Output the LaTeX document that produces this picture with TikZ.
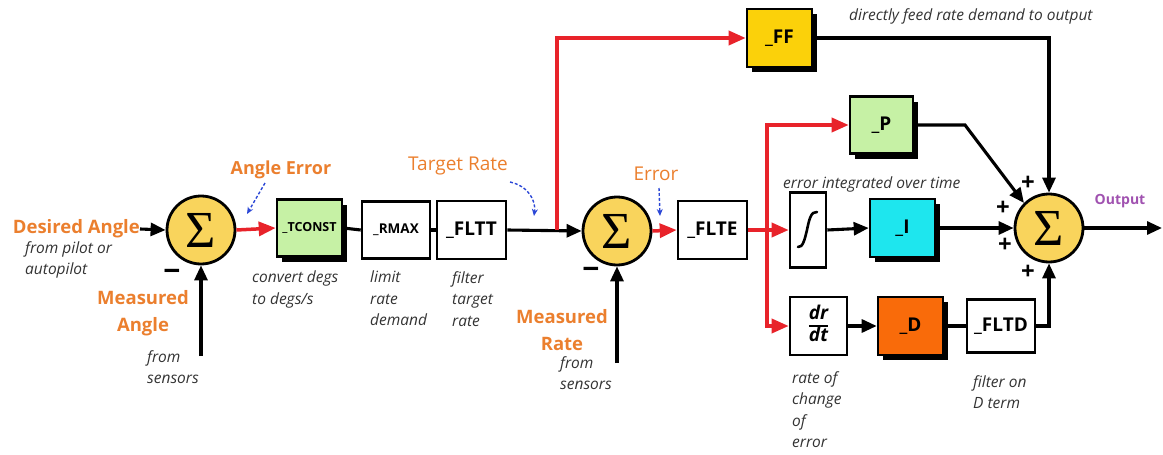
\documentclass[tikz,border=0pt]{standalone}
\usepackage{fontspec}
\setmainfont{Open Sans}
\newfontfamily\sigfont{Liberation Serif}
\usetikzlibrary{arrows.meta,shadows}
\definecolor{lbl}{HTML}{EB7F2E}
\definecolor{notec}{HTML}{333333}
\definecolor{redw}{HTML}{E8232A}
\definecolor{blu}{HTML}{2B47D6}
\definecolor{sumy}{HTML}{F9D45C}
\definecolor{lgreen}{HTML}{C6F1A5}
\definecolor{ffy}{HTML}{FBD10A}
\definecolor{cyanb}{HTML}{1EE6EE}
\definecolor{dor}{HTML}{F96B0A}
\definecolor{outc}{HTML}{A052B0}
\begin{document}
\begin{tikzpicture}[x=1pt,y=-1pt,
  box/.style={draw=black, line width=2.6pt, fill=white, inner sep=0pt, text=black,
    font=\bfseries\fontsize{19}{21}\selectfont},
  sbox/.style={box, drop shadow={shadow xshift=5pt,shadow yshift=-5pt,opacity=1,fill=black}},
  sumn/.style={circle, draw=black, line width=2.8pt, fill=sumy, minimum size=68pt,
    inner sep=0pt, font=\sigfont\fontsize{52}{52}\selectfont},
  wire/.style={draw=black, line width=3.1pt},
  rwire/.style={draw=redw, line width=3.5pt},
  barr/.style={-{Triangle[length=15pt,width=13pt]}},
  rarr/.style={-{Triangle[length=17pt,width=14pt]}},
  note/.style={font=\itshape\fontsize{15.5}{21.5}\selectfont, text=notec, align=left, inner sep=0pt},
  olbl/.style={font=\bfseries\fontsize{18.5}{27}\selectfont, text=lbl, align=center, inner sep=0pt},
  olblr/.style={font=\fontsize{19}{21}\selectfont, text=lbl, inner sep=0pt},
  plus/.style={font=\bfseries\fontsize{24}{24}\selectfont, inner sep=0pt},
  minus/.style={font=\bfseries\fontsize{30}{30}\selectfont, inner sep=0pt},
  bdash/.style={draw=blu, line width=1.4pt, dash pattern=on 3pt off 2pt, -{Stealth[length=7pt,width=6pt]}}
]
\useasboundingbox (0,0) rectangle (1163,455);

% ---------- blocks ----------
\node[sumn] (s1) at (201,230) {Σ};
\node[sbox, fill=lgreen, minimum width=65, minimum height=57,
  font=\bfseries\fontsize{12.5}{14}\selectfont] (tconst) at (309.5,228) {\_TCONST};
\node[box, minimum width=68, minimum height=57,
  font=\bfseries\fontsize{13.5}{15}\selectfont] (rmax) at (396,230) {\_RMAX};
\node[box, minimum width=69, minimum height=58] (fltt) at (471.5,230) {\_FLTT};
\node[sumn] (s2) at (617,231) {Σ};
\node[box, minimum width=69, minimum height=58] (flte) at (712.5,230) {\_FLTE};
\node[sbox, fill=ffy, minimum width=65, minimum height=58] (ff) at (779.5,38) {\_FF};
\node[sbox, fill=lgreen, minimum width=63, minimum height=57] (p) at (881.5,125) {\_P};
\node[box, minimum width=36, minimum height=75] (integ) at (808,230) {};
\node[sbox, fill=cyanb, minimum width=65, minimum height=58] (ib) at (902.5,228) {\_I};
\node[sumn] (s3) at (1049,228) {Σ};
\node[box, minimum width=57, minimum height=58, font=\bfseries\itshape\fontsize{19}{19}\selectfont] (drdt) at (818.5,326)
  {\setlength\arrayrulewidth{2pt}\begin{tabular}{@{}c@{}}dr\\\hline dt\end{tabular}};
\node[sbox, fill=dor, minimum width=65, minimum height=58] (db) at (910.5,326) {\_D};
\node[box, minimum width=68, minimum height=53] (fltd) at (1001,326) {\_FLTD};

% integral sign
\draw[line width=2.6pt, line cap=round] (798,247) .. controls (803,248) and (805,238) .. (807,230)
  .. controls (809,220) and (811,211) .. (817,212);

% ---------- labels ----------
\node[olbl, anchor=east] (desired) at (140,229) {Desired Angle};
\node[note, anchor=north west] (pilot) at (25,241) {from pilot or\\autopilot};
\node[minus] (mn1) at (172,275) {−};
\node[olbl] (mangle) at (143,313) {Measured\\Angle};
\node[note, anchor=north west] (sens1) at (147,350) {from\\sensors};
\node[olbl, font=\bfseries\fontsize{18}{20}\selectfont] (aerr) at (281,170) {Angle Error};
\node[note, anchor=north west] (conv) at (252,271) {convert degs\\to degs/s};
\node[note, anchor=north west] (lim) at (370,271) {limit\\rate\\demand};
\node[note, anchor=north west] (filt) at (452,271) {filter\\target\\rate};
\node[olblr] (trate) at (458,166) {Target Rate};
\node[olblr] (errl) at (656,174) {Error};
\node[minus] (mn2) at (591,273) {−};
\node[olbl] (mrate) at (562,330) {Measured\\Rate};
\node[note, anchor=north west] (sens2) at (560,356) {from\\sensors};
\node[note, anchor=west] (direct) at (849,16) {directly feed rate demand to output};
\node[note, anchor=west] (eint) at (783,184) {error integrated over time};
\node[note, anchor=north west] (roc) at (792,371) {rate of\\change\\of\\error};
\node[note, anchor=north west] (fon) at (973,375) {filter on\\D term};
\node[font=\bfseries\fontsize{14}{16}\selectfont, text=outc] (outl) at (1120,201) {Output};
\node[plus] (pl1) at (1028,183) {+};
\node[plus] (pl2) at (1003,208) {+};
\node[plus] (pl3) at (1005,245) {+};
\node[plus] (pl4) at (1028,272) {+};

% ---------- coordinates ----------
\coordinate (m1) at (201,356);
\coordinate (m2) at (617,363);
\coordinate (jA) at (557,230);
\coordinate (jB) at (767,230);
\coordinate (pk) at (965,125);
\coordinate (outend) at (1162,228);
\coordinate (ae1) at (265,183);
\coordinate (ae2) at (247,214);
\coordinate (tr1) at (510,182);
\coordinate (tr2) at (534,216);
\coordinate (er1) at (659,188);
\coordinate (er2) at (660,216);

% ---------- connectors ----------
\draw[wire,barr] (desired.east) -- (s1.west);
\draw[wire,barr] (m1) -- (s1.south);
\draw[rwire,rarr] (s1.east) -- (tconst.west);
\draw[wire] (tconst.east) -- (rmax.west);
\draw[wire] (rmax.east) -- (fltt.west);
\draw[wire,barr] (fltt.east) -- (s2.west);
\draw[wire,barr] (m2) -- (s2.south);
\draw[rwire,rarr] (jA) |- (ff.west);
\draw[rwire,rarr] (s2.east) -- (flte.west);
\draw[rwire] (flte.east) -- (jB);
\draw[rwire,rarr] (jB) -- (integ.west);
\draw[rwire,rarr] (jB) |- (p.west);
\draw[rwire,rarr] (jB) |- (drdt.west);
\draw[wire,barr] (integ.east) -- (ib.west);
\draw[wire,barr] (ib.east) -- (s3);
\draw[wire,barr] (ff.east) -| (s3.north);
\draw[wire,barr] (p.east) -- (pk) -- (s3.north west);
\draw[wire,barr] (drdt.east) -- (db.west);
\draw[wire] (db.east) -- (fltd.west);
\draw[wire,barr] (fltd.east) -| (s3.south);
\draw[wire,barr] (s3.east) -- (outend);

% blue dashed pointers
\draw[bdash] (ae1) -- (ae2);
\draw[bdash] (tr1) .. controls (528,186) and (536,200) .. (tr2);
\draw[bdash] (er1) -- (er2);
\end{tikzpicture}
\end{document}
